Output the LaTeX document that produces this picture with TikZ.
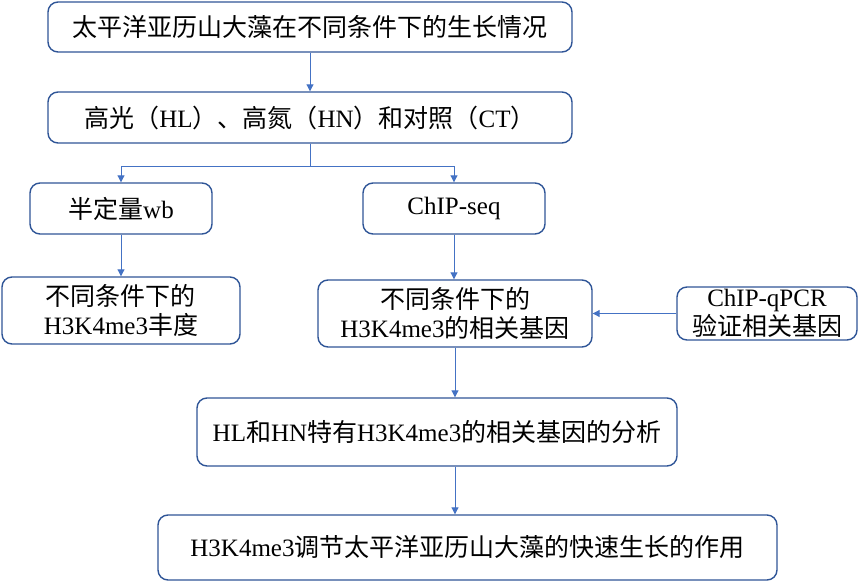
\documentclass[tikz,border=0pt]{standalone}
\usepackage{fontspec}
\usepackage{tikz}
\usetikzlibrary{arrows.meta}
\setmainfont{Liberation Serif}
\newfontfamily\zh{Noto Sans CJK SC}
\definecolor{boxblue}{RGB}{47,85,151}
\definecolor{lineblue}{RGB}{68,114,196}

\begin{document}
\begin{tikzpicture}[x=1pt,y=-1pt,
    flowbox/.style={draw=boxblue,line width=1.4pt,rounded corners=10pt,align=center,
        font=\fontsize{25}{29}\selectfont,inner sep=0pt},
    flowline/.style={draw=lineblue,line width=1pt},
    flowarrow/.style={flowline,-{Triangle[width=7pt,length=7pt]}}]
    \useasboundingbox (0,0) rectangle (860,581);
    % boxes
    \node[flowbox,minimum width=524pt,minimum height=50pt] (grow) at (310,27)
        {{\zh 太平洋亚历山大藻在不同条件下的生长情况}};
    \node[flowbox,minimum width=524pt,minimum height=51pt] (cond) at (310,117.5)
        {{\zh 高光（}HL{\zh ）、高氮（}HN{\zh ）和对照（}CT{\zh ）}};
    \node[flowbox,minimum width=182pt,minimum height=51pt] (wb) at (121,208.5)
        {{\zh 半定量}wb};
    \node[flowbox,minimum width=182pt,minimum height=51pt] (seq) at (454,208.5)
        {ChIP-seq};
    \node[flowbox,minimum width=238pt,minimum height=67pt] (abund) at (121,310.5)
        {{\zh 不同条件下的}\\H3K4me3{\zh 丰度}};
    \node[flowbox,minimum width=274pt,minimum height=67pt] (genes) at (455,313.5)
        {{\zh 不同条件下的}\\H3K4me3{\zh 的相关基因}};
    \node[flowbox,minimum width=180pt,minimum height=53pt] (qpcr) at (767,313.5)
        {ChIP-qPCR\\{\zh 验证相关基因}};
    \node[flowbox,minimum width=480pt,minimum height=68pt] (spec) at (437,432)
        {HL{\zh 和}HN{\zh 特有}H3K4me3{\zh 的相关基因的分析}};
    \node[flowbox,minimum width=619pt,minimum height=65pt] (role) at (467.5,547.5)
        {H3K4me3{\zh 调节太平洋亚历山大藻的快速生长的作用}};
    % connectors
    \coordinate (split) at (310,166);
    \draw[flowarrow] (grow) -- (cond);
    \draw[flowline] (cond.south) -- (split);
    \draw[flowarrow] (split) -| (wb.north);
    \draw[flowarrow] (split) -| (seq.north);
    \draw[flowarrow] (wb) -- (abund);
    \draw[flowarrow] (seq.south) -- (seq.south |- genes.north);
    \draw[flowarrow] (qpcr) -- (genes);
    \draw[flowarrow] (genes.south) -- (genes.south |- spec.north);
    \draw[flowarrow] (genes.south |- spec.south) -- (genes.south |- role.north);
\end{tikzpicture}
\end{document}
